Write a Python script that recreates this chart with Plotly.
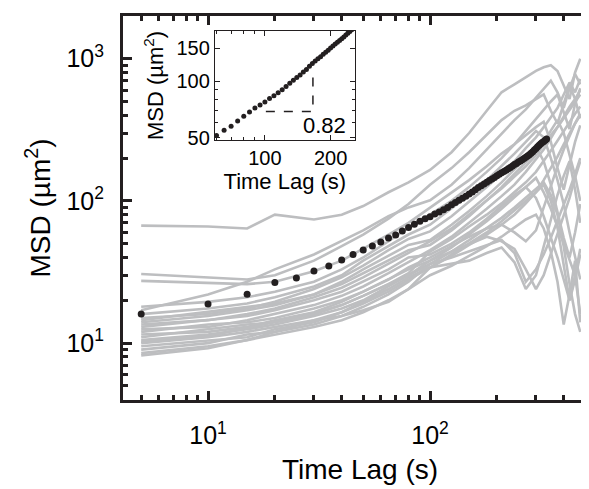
import plotly.graph_objects as go

# time grid of the single trajectories (s)
traj_t = [5, 10, 15, 20, 30, 40, 50, 65, 80, 100, 125, 150, 180, 210, 240, 270,
          300, 325, 350, 375, 400, 425, 450, 475]

# single-trajectory MSD curves (um^2)
traj_01 = [67, 66, 64, 80, 74, 80, 92, 115, 135, 165, 220, 300, 430, 580, 660, 740, 820, 870, 900, 820, 650, 520, 800, 1000]
traj_02 = [30.6, 29, 28, 30, 38, 48, 58, 75, 95, 130, 170, 220, 290, 370, 430, 470, 520, 560, 430, 350, 480, 650, 520, 380]
traj_03 = [27.4, 26.5, 26, 27, 32, 38, 46, 58, 70, 90, 115, 140, 175, 215, 250, 290, 330, 360, 260, 170, 120, 180, 260, 340]
traj_04 = [17, 22, 27, 33, 42, 52, 62, 78, 90, 101, 130, 170, 230, 300, 370, 440, 530, 620, 700, 580, 450, 620, 780, 660]
traj_05 = [18, 19.5, 21, 23, 27, 33, 40, 52, 65, 80, 100, 125, 160, 200, 250, 310, 380, 440, 500, 560, 420, 320, 480, 620]
traj_06 = [16, 17.5, 19, 21, 25, 30, 38, 48, 58, 68, 88, 110, 140, 175, 215, 260, 310, 280, 200, 140, 95, 60, 40, 28]
traj_07 = [15, 16, 17.5, 19.5, 24, 29, 35, 45, 54, 61, 78, 98, 125, 155, 190, 235, 280, 330, 390, 450, 560, 680, 580, 720]
traj_08 = [14, 15.5, 17, 18.5, 22, 27, 33, 41, 49, 53, 68, 85, 108, 135, 165, 200, 240, 190, 130, 85, 55, 40, 60, 95]
traj_09 = [14.5, 16.5, 18, 19, 22, 26, 31, 38, 45, 49, 62, 78, 100, 125, 155, 185, 220, 260, 310, 370, 300, 210, 150, 100]
traj_10 = [13.5, 14.5, 16, 17.5, 21, 24.5, 29, 36, 43, 52, 64, 80, 100, 122, 148, 175, 210, 250, 290, 330, 380, 440, 500, 560]
traj_11 = [13, 14.5, 15.5, 17, 20, 23, 27, 33, 40, 42, 50, 60, 75, 92, 110, 125, 105, 78, 56, 40, 28, 20, 28, 42]
traj_12 = [12.5, 13, 14.5, 16, 18.5, 21.5, 25, 31, 37, 45, 56, 70, 88, 108, 130, 160, 195, 230, 275, 330, 390, 460, 520, 600]
traj_13 = [12, 13.5, 14, 15, 17.5, 20, 23, 28, 33, 38, 47, 58, 72, 88, 106, 125, 145, 115, 88, 66, 50, 38, 30, 46]
traj_14 = [11.5, 12, 13, 14.5, 16.5, 19.5, 23, 28, 34, 40, 48, 56, 64, 68, 60, 52, 62, 90, 130, 175, 230, 290, 350, 400]
traj_15 = [11, 12.5, 13.5, 14, 16, 18.5, 21.5, 26, 30, 36, 44, 53, 64, 76, 90, 105, 120, 135, 110, 80, 48, 26, 16, 12]
traj_16 = [10.5, 11.5, 12.5, 13.5, 15.5, 17.5, 20, 25, 30, 38, 44, 50, 56, 52, 46, 33, 24, 30, 42, 58, 78, 105, 145, 190]
traj_17 = [10, 11, 12, 13, 14.5, 16.5, 19.5, 24, 29, 34, 42, 50, 60, 72, 86, 100, 115, 130, 100, 65, 36, 20, 30, 16]
traj_18 = [9.5, 10.5, 11, 12.5, 14, 16.5, 19, 23, 28, 34, 41, 49, 58, 68, 80, 96, 115, 140, 170, 205, 250, 300, 350, 410]
traj_19 = [9, 10, 11.5, 12, 13.5, 15.5, 18, 22, 27, 36, 40, 44, 49, 53, 43, 27, 33, 42, 55, 72, 92, 120, 155, 200]
traj_20 = [8.5, 9.5, 10.5, 11.5, 13, 14.5, 16.5, 20, 24, 30, 35, 41, 48, 56, 65, 74, 80, 64, 44, 27, 13.5, 22, 38, 14]
traj_21 = [8.2, 9.2, 10.5, 12, 14.5, 15.5, 17, 19.5, 24, 34, 36, 38, 43, 47, 37, 24, 30, 48, 75, 110, 150, 190, 120, 70]
traj_22 = [10.2, 11.2, 12.8, 14, 16, 18.5, 21.5, 26, 31, 44, 54, 66, 80, 96, 115, 135, 160, 190, 225, 265, 310, 360, 410, 460]

trajectories = [traj_01, traj_02, traj_03, traj_04, traj_05, traj_06, traj_07, traj_08,
                traj_09, traj_10, traj_11, traj_12, traj_13, traj_14, traj_15, traj_16,
                traj_17, traj_18, traj_19, traj_20, traj_21, traj_22]

# ensemble-averaged MSD (black dots), lag step 5 s
mean_t = list(range(5, 340, 5))
mean_msd = [16.0, 18.8, 22.1, 26.7, 28.7, 32.1, 34.8, 38.4, 42.0, 45.2, 48.2, 51.4,
            54.9, 57.6, 61.5, 65.0, 68.5, 72.0, 74.8, 77.5, 80.9, 83.7, 86.8, 90.0,
            93.8, 97.5, 101, 104.5, 108, 112, 115.5, 120, 124, 128, 131.5, 135,
            139, 142.5, 146, 150, 154, 157.5, 161, 164.5, 168, 172, 176, 180,
            183.5, 187.5, 191, 195, 199, 202.5, 206.5, 211, 216.5, 222, 228, 234,
            240, 246, 252, 257, 262, 267, 272]

# slope guide in the inset
slope_t = [101, 166, 166]
slope_msd = [69, 69, 110]
slope_label = '0.82'

GREY = '#bdbec0'
INK = '#231f20'
FONT = 'Liberation Sans, Arial, sans-serif'

fig = go.Figure()

for traj in trajectories:
    fig.add_trace(go.Scatter(x=traj_t, y=traj, mode='lines',
                             line=dict(color=GREY, width=2.6),
                             showlegend=False, hoverinfo='skip'))

fig.add_trace(go.Scatter(x=mean_t, y=mean_msd, mode='markers',
                         marker=dict(color=INK, size=7),
                         showlegend=False))

# inset: zoom on the mean curve
inset_t = [t for t in mean_t if 58 <= t <= 255]
inset_msd = [m for t, m in zip(mean_t, mean_msd) if 58 <= t <= 255]
fig.add_trace(go.Scatter(x=inset_t, y=inset_msd, mode='markers',
                         marker=dict(color=INK, size=5),
                         xaxis='x2', yaxis='y2', showlegend=False))
fig.add_trace(go.Scatter(x=slope_t, y=slope_msd, mode='lines',
                         line=dict(color=INK, width=1.5, dash='dash'),
                         xaxis='x2', yaxis='y2', showlegend=False))

minor_main = [k * 10 ** e for e in (0, 1, 2, 3) for k in range(2, 10)]

axis_common = dict(
    type='log', showline=True, linecolor=INK, linewidth=3,
    ticks='inside', tickcolor=INK, ticklen=9, tickwidth=3, mirror='ticks',
    showgrid=False, zeroline=False, automargin=False,
    tickfont=dict(family=FONT, size=25, color='black'),
    minor=dict(ticks='inside', ticklen=5, tickwidth=2.5, tickcolor=INK,
               tickvals=minor_main, showgrid=False),
)

inset_common = dict(
    type='log', showline=True, linecolor=INK, linewidth=1.2,
    ticks='inside', tickcolor=INK, ticklen=5, tickwidth=1, mirror='ticks',
    showgrid=False, zeroline=False, automargin=False,
    tickfont=dict(family=FONT, size=20, color='black'),
    minor=dict(ticks='inside', ticklen=3, tickwidth=1, tickcolor=INK,
               tickvals=minor_main, showgrid=False),
)

fig.update_layout(
    width=589, height=489,
    margin=dict(l=115, r=0, t=8, b=97),
    paper_bgcolor='white', plot_bgcolor='white',
    font=dict(family=FONT, color='black'),
    xaxis=dict(axis_common, range=[0.617, 2.752],
               tickvals=[10, 100], ticktext=['10<sup>1</sup>', '10<sup>2</sup>'],
               ticklabelstandoff=11,
               title=dict(text='Time Lag (s)', font=dict(size=28), standoff=12)),
    yaxis=dict(axis_common, range=[0.6, 3.3],
               tickvals=[10, 100, 1000],
               ticktext=['10<sup>1</sup>', '10<sup>2</sup>', '10<sup>3</sup>'],
               ticklabelstandoff=11,
               title=dict(text='MSD (µm<sup>2</sup>)', font=dict(size=28), standoff=8)),
    xaxis2=dict(inset_common, domain=[0.194, 0.489], anchor='y2',
                range=[1.771, 2.412], tickvals=[100, 200], ticktext=['100', '200'],
                title=dict(text='Time Lag (s)', font=dict(size=22), standoff=0)),
    yaxis2=dict(inset_common, domain=[0.677, 0.961], anchor='x2',
                range=[1.687, 2.267], tickvals=[50, 100, 150], ticktext=['50', '100', '150'],
                title=dict(text='MSD (µm<sup>2</sup>)', font=dict(size=22), standoff=6)),
    annotations=[dict(text=slope_label, xref='x2', yref='y2',
                      x=2.274, y=1.766, showarrow=False,
                      font=dict(family=FONT, size=22, color='black'))],
)

fig.write_html('out.html')
